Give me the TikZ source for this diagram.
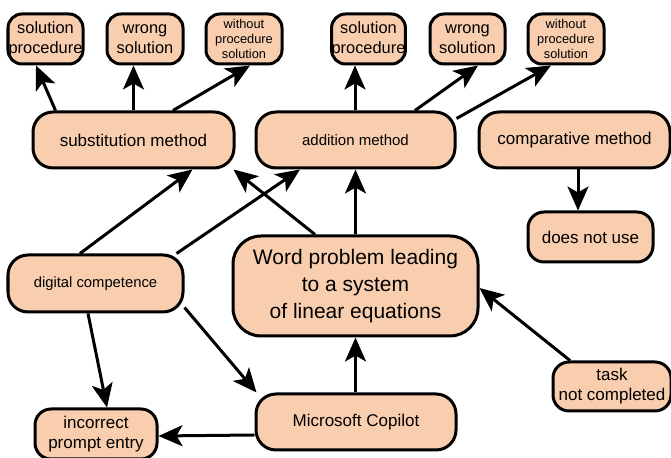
\documentclass[tikz,border=0pt]{standalone}
\usepackage{fontspec}
\setmainfont{Liberation Sans}
\usetikzlibrary{arrows.meta}
\definecolor{peach}{RGB}{249,206,175}
\tikzset{
  box/.style={draw=black, fill=peach, line width=1.5pt, rounded corners=7pt, align=center, inner sep=0pt},
  big/.style={box, rounded corners=10pt},
  f85/.style={font=\fontsize{8.5}{10}\selectfont},
  f82/.style={font=\fontsize{8.2}{10}\selectfont},
  f64/.style={font=\fontsize{6.4}{7.3}\selectfont},
  f75/.style={font=\fontsize{7.5}{9}\selectfont},
  arr/.style={draw=black, line width=1.5pt, -{Stealth[length=12pt,width=10.5pt,inset=3pt]}},
}
\begin{document}
\begin{tikzpicture}[x=0.5pt,y=-0.5pt]
\useasboundingbox (0,0) rectangle (671,458);
% top left
\node[box,f82,minimum width=37.5pt,minimum height=25pt] (sp1) at (45.5,39) {solution\\procedure};
\node[box,f82,minimum width=38pt,minimum height=25pt] (ws1) at (145,39) {wrong\\solution};
\node[box,f64,minimum width=38pt,minimum height=25pt] (wp1) at (244,39) {without\\procedure\\solution};
% top right
\node[box,f82,minimum width=36.5pt,minimum height=25pt] (sp2) at (368.5,39) {solution\\procedure};
\node[box,f82,minimum width=37.5pt,minimum height=25pt] (ws2) at (467.5,39) {wrong\\solution};
\node[box,f64,minimum width=38pt,minimum height=25pt] (wp2) at (566,39) {without\\procedure\\solution};
% methods
\node[big,f85,minimum width=100.5pt,minimum height=28pt] (sub) at (133.5,140) {substitution method};
\node[big,f75,minimum width=99.5pt,minimum height=28pt] (add) at (355.5,140) {addition method};
\node[big,f85,minimum width=95.5pt,minimum height=28pt] (comp) at (574.5,140) {comparative method};
\node[box,f85,minimum width=62.5pt,minimum height=25pt,rounded corners=8pt] (dnu) at (590.5,237) {does not use};
% middle
\node[big,font=\fontsize{7.4}{9}\selectfont,minimum width=87.5pt,minimum height=28.5pt] (dc) at (95.5,283.5) {digital competence};
\node[box,font=\fontsize{10.5}{13.5}\selectfont,minimum width=122.5pt,minimum height=50pt,rounded corners=14pt] (word) at (355.5,286) {Word problem leading\\to a system\\of linear equations};
\node[box,f85,minimum width=59pt,minimum height=24.5pt,rounded corners=8pt] (task) at (612,386.5) {task\\not completed};
% bottom
\node[big,f85,minimum width=100pt,minimum height=28pt] (ms) at (356,422) {Microsoft Copilot};
\node[box,f85,minimum width=61pt,minimum height=25pt,rounded corners=8pt] (ipe) at (96,434) {incorrect\\prompt entry};
% connectors
\draw[arr] ([xshift=12pt]sub.north west) -- ([xshift=-4.75pt]sp1.south);
\draw[arr] (sub.north) -- ([xshift=-5.75pt]ws1.south);
\draw[arr] ([xshift=19.75pt]sub.north) -- ([xshift=3pt]wp1.south);
\draw[arr] ([xshift=-0.25pt]add.north) -- ([xshift=-6.75pt]sp2.south);
\draw[arr] ([xshift=29.75pt]add.north) -- ([xshift=5.25pt]ws2.south);
\draw[arr] ([yshift=-4pt]add.north east) -- ([xshift=-7.5pt]wp2.south);
\draw[arr] ([xshift=1.75pt]comp.south) -- ([xshift=-6.25pt]dnu.north);
\draw[arr] ([xshift=-7.75pt]dc.north) -- ([xshift=29.5pt]sub.south);
\draw[arr] ([xshift=-4pt]dc.north east) -- ([xshift=-27.75pt]add.south);
\draw[arr] ([xshift=-20.25pt]word.north) -- ([xshift=-1pt]sub.south east);
\draw[arr] (word.north) -- (add.south);
\draw[arr] ([xshift=-21pt]task.north) -- ([yshift=-1pt]word.east);
\draw[arr] (ms.north -| word.south) -- (word.south);
\draw[arr] ([yshift=3pt]dc.south east) -- ([xshift=1pt]ms.north west);
\draw[arr] ([xshift=-3.75pt]dc.south) -- ([xshift=5.5pt]ipe.north);
\draw[arr] ([yshift=-6.5pt]ms.west) -- ([yshift=-1pt]ipe.east);
\end{tikzpicture}
\end{document}
